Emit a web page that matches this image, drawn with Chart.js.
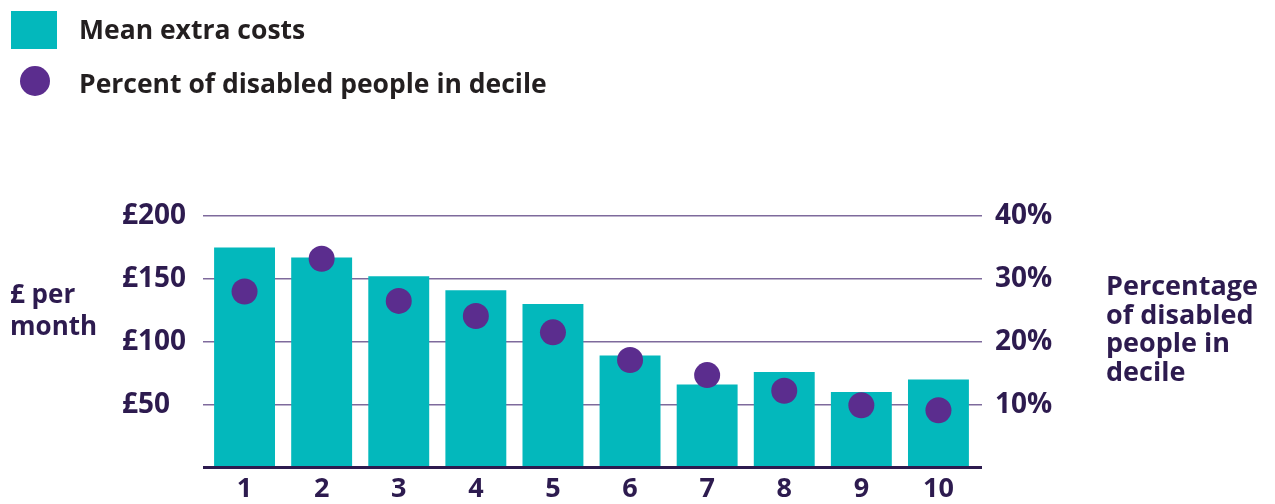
<!DOCTYPE html>
<html>
<head>
<meta charset="utf-8">
<script src="https://cdn.jsdelivr.net/npm/chart.js@4.4.1/dist/chart.umd.min.js"></script>
<style>
  html, body { margin:0; padding:0; background:#fff; }
  canvas { display:block; }
</style>
</head>
<body>
<canvas id="c" width="1275" height="504"></canvas>
<script>
const deciles = ['1','2','3','4','5','6','7','8','9','10'];
const meanExtraCosts = [175, 167, 152, 141, 130, 89, 66, 76, 60, 70];
const percentDisabled = [28.0, 33.2, 26.5, 24.1, 21.5, 17.1, 14.7, 12.2, 9.9, 9.1];
const legendLabels = ['Mean extra costs', 'Percent of disabled people in decile'];
const leftTitle = ['£ per', 'month'];
const rightTitle = ['Percentage', 'of disabled', 'people in', 'decile'];

const TEXT = '#2D1B4F';
const TEAL = '#03B8BC';
const PURPLE = '#5B2D8E';
const GRID = '#7E6A9C';
const FONT = '"Open Sans", sans-serif';

const titlesPlugin = {
  id: 'titles',
  afterDraw(chart) {
    const ctx = chart.ctx;
    ctx.save();
    // legend
    ctx.fillStyle = TEAL;
    ctx.fillRect(11, 11, 46, 38);
    ctx.fillStyle = PURPLE;
    ctx.beginPath();
    ctx.arc(35, 81, 15, 0, Math.PI * 2);
    ctx.fill();
    ctx.fillStyle = '#231F20';
    ctx.font = 'bold 26.5px ' + FONT;
    ctx.textAlign = 'left';
    ctx.textBaseline = 'alphabetic';
    ctx.fillText(legendLabels[0], 79, 39);
    ctx.fillText(legendLabels[1], 79, 93);
    // axis titles
    ctx.fillStyle = TEXT;
    ctx.font = 'bold 26px ' + FONT;
    leftTitle.forEach((t, i) => ctx.fillText(t, 10, 303 + i * 32));
    ctx.font = 'bold 27px ' + FONT;
    rightTitle.forEach((t, i) => ctx.fillText(t, 1106, 295 + i * 28.5));
    ctx.restore();
  }
};

const gridColor = (dark) => ctx => {
  if (ctx.tick && ctx.tick.value === 0) return dark;
  return GRID;
};
const gridWidth = ctx => (ctx.tick && ctx.tick.value === 0) ? 3 : 1.5;

new Chart(document.getElementById('c'), {
  data: {
    labels: deciles,
    datasets: [
      {
        type: 'line',
        label: legendLabels[1],
        data: percentDisabled,
        yAxisID: 'y1',
        showLine: false,
        pointRadius: 13,
        pointHoverRadius: 13,
        pointBackgroundColor: PURPLE,
        pointBorderWidth: 0,
        order: 0
      },
      {
        type: 'bar',
        label: legendLabels[0],
        data: meanExtraCosts,
        yAxisID: 'y',
        backgroundColor: TEAL,
        barPercentage: 0.79,
        categoryPercentage: 1,
        order: 1
      }
    ]
  },
  options: {
    responsive: false,
    animation: false,
    devicePixelRatio: 1,
    layout: { padding: { top: 216, left: 122, right: 0, bottom: 0 } },
    plugins: { legend: { display: false }, tooltip: { enabled: false } },
    scales: {
      x: {
        grid: { display: false, drawTicks: false },
        border: { display: false },
        ticks: { color: TEXT, font: { family: FONT, weight: 'bold', size: 27 }, padding: 6 },
        afterFit(s) { s.height = 36.5; }
      },
      y: {
        position: 'left',
        min: 0, max: 200,
        ticks: {
          stepSize: 50,
          color: TEXT,
          crossAlign: 'far',
          padding: 0,
          font: { family: FONT, weight: 'bold', size: 28 },
          callback: v => v === 0 ? '' : '£' + v
        },
        grid: {
          drawTicks: true,
          tickLength: 3,
          color: gridColor(TEXT),
          lineWidth: gridWidth
        },
        border: { display: false },
        afterFit(s) { s.width = 84; }
      },
      y1: {
        position: 'right',
        min: 0, max: 40,
        ticks: {
          stepSize: 10,
          color: TEXT,
          padding: 13,
          font: { family: FONT, weight: 'bold', size: 28 },
          callback: v => v === 0 ? '' : v + '%'
        },
        grid: {
          drawOnChartArea: false,
          drawTicks: true,
          tickLength: 5,
          color: gridColor(TEXT),
          lineWidth: gridWidth
        },
        border: { display: false },
        afterFit(s) { s.width = 298; }
      }
    }
  },
  plugins: [titlesPlugin]
});
</script>
</body>
</html>
